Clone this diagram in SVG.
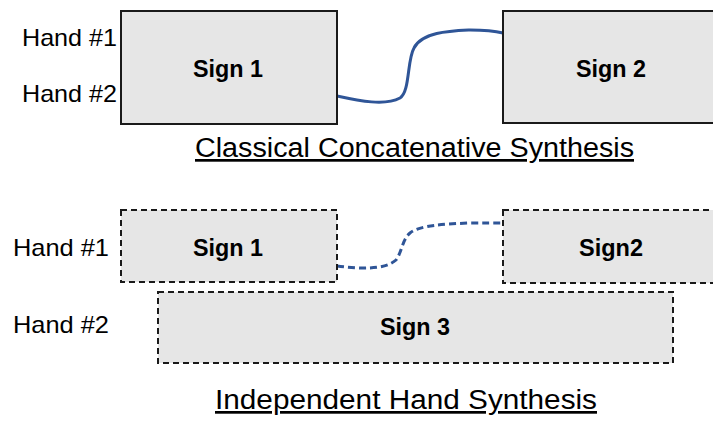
<svg xmlns="http://www.w3.org/2000/svg" width="713" height="423" viewBox="0 0 713 423">
<style>
.box{fill:#e6e6e6;stroke:#1a1a1a;stroke-width:2}
.dash{fill:#e6e6e6;stroke:#1a1a1a;stroke-width:2;stroke-dasharray:6 4}
.lbl{font-family:"Liberation Sans",Arial,sans-serif;font-size:24px;fill:#000}
.sign{font-family:"Liberation Sans",Arial,sans-serif;font-size:23px;font-weight:bold;fill:#000;text-anchor:middle}
.title{font-family:"Liberation Sans",Arial,sans-serif;font-size:27px;fill:#000;text-decoration:underline}
.conn{fill:none;stroke:#2f5597;stroke-width:3}
</style>
<rect width="713" height="423" fill="#fff"/>
<g id="labels">
<text class="lbl" x="22" y="46" textLength="95" lengthAdjust="spacingAndGlyphs">Hand #1</text>
<text class="lbl" x="22" y="102" textLength="95" lengthAdjust="spacingAndGlyphs">Hand #2</text>
<text class="lbl" x="13" y="256" textLength="96" lengthAdjust="spacingAndGlyphs">Hand #1</text>
<text class="lbl" x="13" y="333" textLength="96" lengthAdjust="spacingAndGlyphs">Hand #2</text>
<text class="title" x="195" y="157" textLength="439" lengthAdjust="spacingAndGlyphs">Classical Concatenative Synthesis</text>
<text class="title" x="215" y="409" textLength="382" lengthAdjust="spacingAndGlyphs">Independent Hand Synthesis</text>
</g>
<g id="connectors">
<path class="conn" d="M337,96 C360,101 385,106 400,98 C410,92 407,60 414,48 C422,32 450,31 470,30 C485,30 495,31 503,33"/>
<path class="conn" stroke-dasharray="7 4" d="M337,266 C360,269 385,270 396,260 C402,252 402,240 410,233 C420,225 445,224 470,223 C485,223 495,223 503,223"/>
</g>
<g id="top-sign1">
<rect class="box" x="121" y="11" width="216" height="113"/>
<text class="sign" x="228" y="77" textLength="70" lengthAdjust="spacingAndGlyphs">Sign 1</text>
</g>
<g id="top-sign2">
<rect class="box" x="503" y="11" width="215" height="112"/>
<text class="sign" x="611" y="77" textLength="70" lengthAdjust="spacingAndGlyphs">Sign 2</text>
</g>
<g id="bot-sign1">
<rect class="dash" x="121" y="210" width="216" height="72"/>
<text class="sign" x="228" y="256" textLength="70" lengthAdjust="spacingAndGlyphs">Sign 1</text>
</g>
<g id="bot-sign2">
<rect class="dash" x="503" y="210" width="215" height="73"/>
<text class="sign" x="611" y="256" textLength="64" lengthAdjust="spacingAndGlyphs">Sign2</text>
</g>
<g id="bot-sign3">
<rect class="dash" x="158" y="292" width="515" height="71"/>
<text class="sign" x="415" y="335" textLength="70" lengthAdjust="spacingAndGlyphs">Sign 3</text>
</g>
</svg>
